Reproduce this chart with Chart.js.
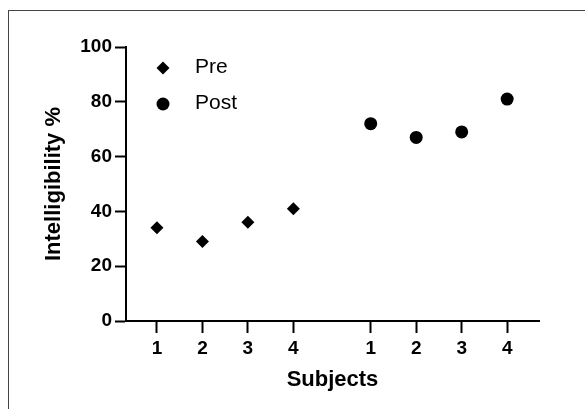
<!DOCTYPE html>
<html>
<head>
<meta charset="utf-8">
<script src="https://cdn.jsdelivr.net/npm/chart.js@4"></script>
<style>
  html, body { margin: 0; padding: 0; background: #fff; }
  #wrap { position: relative; width: 585px; height: 409px; }
  #frame { position: absolute; left: 8px; top: 10px; right: 0; bottom: 0;
           border-top: 1px solid #444; border-left: 1px solid #444; pointer-events: none; }
</style>
</head>
<body>
<div id="wrap">
  <canvas id="chart" width="585" height="409"></canvas>
  <div id="frame"></div>
</div>
<script>
// データ
const subjects = ['1', '2', '3', '4'];
const groupLabels = ['Pre', 'Post'];
const preValues = [34, 29, 36, 41];
const postValues = [72, 67, 69, 81];
const yTicks = [0, 20, 40, 60, 80, 100];

// グループ間のずれ（x軸上）
const groupOffset = 4.7;

// x座標付きの点を作る
function toPoints(values, group) {
    return values.map((v, i) => ({ x: i + 1 + group * groupOffset, y: v }));
}

const tickPositions = [];
groupLabels.forEach((g, gi) => {
    subjects.forEach((s, i) => tickPositions.push(i + 1 + gi * groupOffset));
});

Chart.defaults.font.family = "'Liberation Sans', Arial, sans-serif";
Chart.defaults.color = '#000';

// 凡例をプロット内に描く
const innerLegend = {
    id: 'innerLegend',
    afterDraw(chart) {
        const ctx = chart.ctx;
        const area = chart.chartArea;
        ctx.save();
        chart.data.datasets.forEach((ds, i) => {
            const y = area.top + 21 + i * 36;
            ctx.fillStyle = '#000';
            ctx.strokeStyle = '#000';
            Chart.helpers.drawPoint(ctx, {
                pointStyle: ds.pointStyle,
                radius: ds.pointRadius,
                borderWidth: 0
            }, area.left + 37, y);
            ctx.font = "21px 'Liberation Sans', Arial, sans-serif";
            ctx.textAlign = 'left';
            ctx.textBaseline = 'middle';
            ctx.fillText(ds.label, area.left + 69, y - 1);
        });
        ctx.restore();
    }
};

new Chart(document.getElementById('chart').getContext('2d'), {
    type: 'scatter',
    data: {
        datasets: [
            {
                label: groupLabels[0],
                data: toPoints(preValues, 0),
                pointStyle: 'rectRot',
                pointRadius: 6.5,
                pointHoverRadius: 6.5,
                backgroundColor: '#000',
                borderColor: '#000',
                borderWidth: 0
            },
            {
                label: groupLabels[1],
                data: toPoints(postValues, 1),
                pointStyle: 'circle',
                pointRadius: 6.5,
                pointHoverRadius: 6.5,
                backgroundColor: '#000',
                borderColor: '#000',
                borderWidth: 0
            }
        ]
    },
    options: {
        responsive: false,
        animation: false,
        layout: { padding: { top: 47, right: 46, left: 0, bottom: 0 } },
        plugins: {
            legend: { display: false },
            tooltip: { enabled: false }
        },
        scales: {
            x: {
                type: 'linear',
                min: 0.32,
                max: 9.4,
                afterBuildTicks(scale) {
                    scale.ticks = tickPositions.map(v => ({ value: v }));
                },
                afterFit(scale) { scale.height = 88; },
                ticks: {
                    autoSkip: false,
                    maxRotation: 0,
                    padding: 4,
                    font: { size: 19, weight: 'bold' },
                    callback: (value, index) => subjects[index % subjects.length]
                },
                grid: {
                    drawOnChartArea: false,
                    tickLength: 12,
                    tickWidth: 2,
                    tickColor: '#000'
                },
                border: { display: true, color: '#000', width: 2 },
                title: {
                    display: true,
                    text: 'Subjects',
                    font: { size: 22, weight: 'bold' },
                    padding: { top: 0, bottom: 16 }
                }
            },
            y: {
                min: 0,
                max: 100,
                afterBuildTicks(scale) {
                    scale.ticks = yTicks.map(v => ({ value: v }));
                },
                afterFit(scale) { scale.width = 126; },
                ticks: {
                    padding: 3,
                    font: { size: 19, weight: 'bold' }
                },
                grid: {
                    drawOnChartArea: false,
                    tickLength: 11,
                    tickWidth: 2,
                    tickColor: '#000'
                },
                border: { display: true, color: '#000', width: 2 },
                title: {
                    display: true,
                    text: 'Intelligibility %',
                    font: { size: 22, weight: 'bold' },
                    padding: { top: 41, bottom: 0 }
                }
            }
        }
    },
    plugins: [innerLegend]
});
</script>
</body>
</html>
